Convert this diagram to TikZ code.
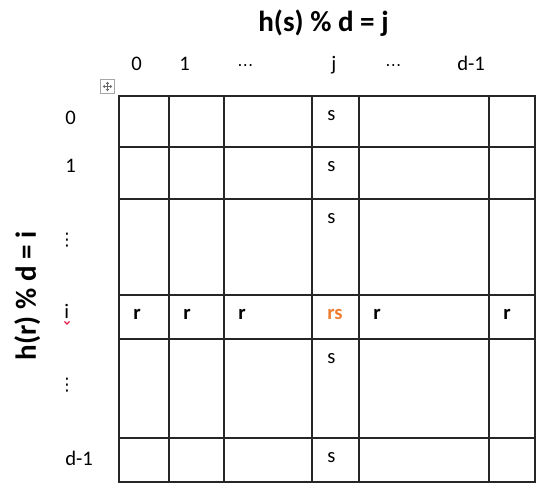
\documentclass[tikz,border=0pt]{standalone}
\usepackage{fontspec}
\setmainfont{Carlito}
\newfontfamily\dotsfont{DejaVu Sans}
\usetikzlibrary{arrows.meta,positioning}
\definecolor{rsorange}{HTML}{ED7D31}
\definecolor{gridgray}{HTML}{262626}
\definecolor{squiggle}{HTML}{E0234E}

\begin{document}
\begin{tikzpicture}[x=0.75pt, y=-0.75pt,
  lbl/.style={font=\fontsize{15.5}{18}\selectfont, inner sep=0pt, anchor=base west},
  ent/.style={lbl, font=\fontsize{15.5}{18}\selectfont\bfseries},
  dotsv/.style={font=\fontsize{13}{15}\selectfont\dotsfont, inner sep=0pt, anchor=center},
  ttl/.style={font=\fontsize{21.8}{26}\selectfont\bfseries, inner sep=0pt, anchor=base},
  gline/.style={line width=1.2pt, draw=gridgray},
  handle/.style={draw=black!35, line width=0.6pt, fill=white},
  harr/.style={{Triangle[length=1.6pt,width=2.2pt]}-{Triangle[length=1.6pt,width=2.2pt]}, draw=black!60, line width=0.5pt}]
\useasboundingbox (0,0) rectangle (537,488);

\node[ttl] (toptitle) at (323.5,32) {h(s) \% d = j};
\node[ttl, rotate=90] (lefttitle) at (36,296) {h(r) \% d = i};

% column heads
\node[lbl] (col0) at (131,71) {0};
\node[lbl] (col1) at (179,71) {1};
\node[lbl, font=\fontsize{12}{14}\selectfont\dotsfont] (colm) at (237,71) {⋯};
\node[lbl] (colj) at (331,71) {j};
\node[lbl, font=\fontsize{12}{14}\selectfont\dotsfont] (coln) at (385,71) {⋯};
\node[lbl] (cold) at (457,71) {d-1};

% row heads
\node[lbl] (row0) at (65,125) {0};
\node[lbl] (row1) at (65,173) {1};
\node[dotsv] (rowm) at (67,240) {⋮};
\node[lbl] (rowi) at (64,319) {i};
\node[dotsv] (rown) at (67,385) {⋮};
\node[lbl] (rowd) at (65,466) {d-1};
\draw[squiggle, line width=1pt] (64.5,321.5) -- (67,324) -- (69.5,321.5);

% table handle
\node[handle, minimum size=10pt, inner sep=0pt] (grip) at (107.5,86.5) {};
\draw[harr] ([xshift=-3.6pt]grip.center) -- ([xshift=3.6pt]grip.center);
\draw[harr] ([yshift=-3.6pt]grip.center) -- ([yshift=3.6pt]grip.center);

% grid
\draw[gline] (119,96) rectangle (535,482);
\draw[gline] (169,96) -- (169,482);
\draw[gline] (224,96) -- (224,482);
\draw[gline] (312,96) -- (312,482);
\draw[gline] (359,96) -- (359,482);
\draw[gline] (489,96) -- (489,482);
\draw[gline] (119,147) -- (535,147);
\draw[gline] (119,199) -- (535,199);
\draw[gline] (119,295) -- (535,295);
\draw[gline] (119,339) -- (535,339);
\draw[gline] (119,438) -- (535,438);

% cells
\node[lbl] (s0) at (327,121) {s};
\node[lbl] (s1) at (327,172) {s};
\node[lbl] (s2) at (327,224) {s};
\node[ent] (r0) at (133,320) {r};
\node[ent] (r1) at (183,320) {r};
\node[ent] (r2) at (238,320) {r};
\node[ent, text=rsorange] (rs) at (327,320) {rs};
\node[ent] (r4) at (373,320) {r};
\node[ent] (r5) at (503,320) {r};
\node[lbl] (s4) at (327,364) {s};
\node[lbl] (s5) at (327,463) {s};
\end{tikzpicture}
\end{document}
